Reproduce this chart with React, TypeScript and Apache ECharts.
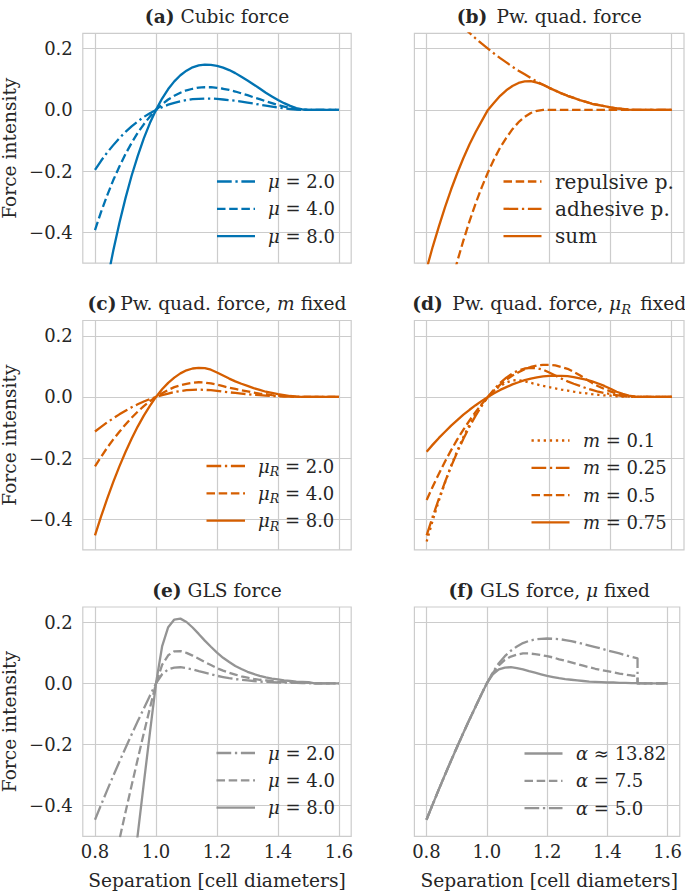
import React, { useEffect, useRef } from 'react';
import * as echarts from 'echarts';

// ---------------- data ----------------
const sep = [
  0.80, 0.82, 0.84, 0.86, 0.88, 0.90, 0.92, 0.94, 0.96, 0.98,
  1.00,
  1.02, 1.04, 1.06, 1.08, 1.10, 1.12, 1.14, 1.16, 1.18,
  1.20, 1.22, 1.24, 1.26, 1.28, 1.30, 1.32, 1.34, 1.36, 1.38,
  1.40, 1.42, 1.44, 1.46, 1.48, 1.50,
  1.52, 1.54, 1.56, 1.58, 1.60,
];
// same separations, with the cut-off point 1.50 listed twice (vertical drop)
const sepCut = [
  0.80, 0.82, 0.84, 0.86, 0.88, 0.90, 0.92, 0.94, 0.96, 0.98,
  1.00,
  1.02, 1.04, 1.06, 1.08, 1.10, 1.12, 1.14, 1.16, 1.18,
  1.20, 1.22, 1.24, 1.26, 1.28, 1.30, 1.32, 1.34, 1.36, 1.38,
  1.40, 1.42, 1.44, 1.46, 1.48, 1.50,
  1.50,
  1.52, 1.54, 1.56, 1.58, 1.60,
];

const xTickValues = [0.8, 1.0, 1.2, 1.4, 1.6];
const yTickValues = [-0.4, -0.2, 0.0, 0.2];

// (a) cubic force
const cubicMu2 = [-0.196, -0.166, -0.139, -0.115, -0.092, -0.072, -0.054, -0.038, -0.023, -0.011, 0.0, 0.009, 0.017, 0.023, 0.028, 0.032, 0.035, 0.036, 0.037, 0.037, 0.036, 0.034, 0.032, 0.030, 0.027, 0.024, 0.021, 0.017, 0.014, 0.011, 0.008, 0.005, 0.003, 0.001, 0.000, 0.0, 0, 0, 0, 0, 0];
const cubicMu4 = [-0.392, -0.333, -0.279, -0.229, -0.185, -0.144, -0.108, -0.075, -0.047, -0.022, 0.0, 0.018, 0.034, 0.046, 0.056, 0.064, 0.069, 0.073, 0.074, 0.074, 0.072, 0.069, 0.065, 0.060, 0.054, 0.048, 0.041, 0.035, 0.028, 0.022, 0.016, 0.011, 0.006, 0.003, 0.001, 0.0, 0, 0, 0, 0, 0];
const cubicMu8 = [-0.784, -0.666, -0.558, -0.459, -0.369, -0.288, -0.215, -0.151, -0.093, -0.043, 0.0, 0.037, 0.068, 0.093, 0.113, 0.128, 0.139, 0.145, 0.148, 0.147, 0.144, 0.138, 0.130, 0.120, 0.108, 0.096, 0.083, 0.070, 0.056, 0.044, 0.032, 0.022, 0.013, 0.006, 0.002, 0.0, 0, 0, 0, 0, 0];

// (b) piecewise quadratic force, parts
const pwqRepulsive = [-0.910, -0.816, -0.728, -0.645, -0.567, -0.494, -0.426, -0.363, -0.305, -0.252, -0.204, -0.161, -0.123, -0.091, -0.063, -0.040, -0.023, -0.010, -0.003, 0.0, 0, 0, 0, 0, 0, 0, 0, 0, 0, 0, 0, 0, 0, 0, 0, 0, 0, 0, 0, 0, 0];
const pwqAdhesive = [0.392, 0.370, 0.348, 0.328, 0.308, 0.288, 0.269, 0.251, 0.233, 0.216, 0.200, 0.184, 0.169, 0.155, 0.141, 0.128, 0.116, 0.104, 0.092, 0.082, 0.072, 0.063, 0.054, 0.046, 0.039, 0.032, 0.026, 0.020, 0.016, 0.012, 0.008, 0.005, 0.003, 0.001, 0.000, 0.0, 0, 0, 0, 0, 0];
const pwqSum = [-0.518, -0.446, -0.380, -0.317, -0.259, -0.206, -0.157, -0.112, -0.072, -0.036, 0.0, 0.023, 0.046, 0.064, 0.078, 0.088, 0.093, 0.094, 0.089, 0.082, 0.072, 0.063, 0.054, 0.046, 0.039, 0.032, 0.026, 0.020, 0.016, 0.012, 0.008, 0.005, 0.003, 0.001, 0.000, 0.0, 0, 0, 0, 0, 0];

// (c) piecewise quadratic, m fixed
const pwqMuR2 = [-0.113, -0.098, -0.083, -0.070, -0.057, -0.045, -0.034, -0.024, -0.015, -0.007, 0.0, 0.006, 0.011, 0.016, 0.019, 0.022, 0.023, 0.024, 0.023, 0.022, 0.020, 0.017, 0.015, 0.013, 0.011, 0.009, 0.007, 0.006, 0.004, 0.003, 0.002, 0.001, 0.001, 0.000, 0.000, 0.0, 0, 0, 0, 0, 0];
const pwqMuR4 = [-0.227, -0.196, -0.166, -0.139, -0.114, -0.090, -0.068, -0.048, -0.030, -0.014, 0.0, 0.012, 0.023, 0.032, 0.038, 0.043, 0.046, 0.048, 0.047, 0.044, 0.040, 0.035, 0.030, 0.026, 0.022, 0.018, 0.014, 0.011, 0.009, 0.006, 0.004, 0.003, 0.002, 0.001, 0.000, 0.0, 0, 0, 0, 0, 0];
const pwqMuR8 = [-0.453, -0.391, -0.333, -0.278, -0.227, -0.180, -0.137, -0.097, -0.061, -0.029, 0.0, 0.025, 0.046, 0.063, 0.077, 0.087, 0.093, 0.095, 0.094, 0.089, 0.080, 0.070, 0.060, 0.051, 0.043, 0.036, 0.029, 0.023, 0.017, 0.013, 0.009, 0.006, 0.003, 0.001, 0.000, 0.0, 0, 0, 0, 0, 0];

// (d) piecewise quadratic, mu_R fixed
const pwqM01 = [-0.473, -0.403, -0.339, -0.280, -0.225, -0.176, -0.131, -0.091, -0.056, -0.025, 0.0, 0.021, 0.036, 0.047, 0.054, 0.055, 0.051, 0.046, 0.041, 0.036, 0.032, 0.028, 0.024, 0.021, 0.017, 0.014, 0.012, 0.009, 0.007, 0.005, 0.004, 0.002, 0.001, 0.001, 0.000, 0.0, 0, 0, 0, 0, 0];
const pwqM025 = [-0.453, -0.391, -0.333, -0.278, -0.227, -0.180, -0.137, -0.097, -0.061, -0.029, 0.0, 0.025, 0.046, 0.063, 0.077, 0.087, 0.093, 0.095, 0.094, 0.089, 0.080, 0.070, 0.060, 0.051, 0.043, 0.036, 0.029, 0.023, 0.017, 0.013, 0.009, 0.006, 0.003, 0.001, 0.000, 0.0, 0, 0, 0, 0, 0];
const pwqM05 = [-0.337, -0.293, -0.251, -0.211, -0.174, -0.139, -0.107, -0.077, -0.049, -0.023, 0.0, 0.021, 0.040, 0.056, 0.070, 0.081, 0.091, 0.098, 0.103, 0.105, 0.105, 0.103, 0.098, 0.092, 0.082, 0.071, 0.058, 0.046, 0.035, 0.026, 0.018, 0.011, 0.006, 0.003, 0.001, 0.0, 0, 0, 0, 0, 0];
const pwqM075 = [-0.179, -0.156, -0.134, -0.114, -0.094, -0.076, -0.058, -0.042, -0.027, -0.013, 0.0, 0.012, 0.023, 0.032, 0.041, 0.048, 0.055, 0.060, 0.064, 0.067, 0.069, 0.069, 0.069, 0.068, 0.065, 0.061, 0.057, 0.051, 0.044, 0.036, 0.027, 0.017, 0.010, 0.004, 0.001, 0.0, 0, 0, 0, 0, 0];

// (e) GLS force
const glsMu2 = [-0.446, -0.397, -0.349, -0.302, -0.256, -0.211, -0.167, -0.124, -0.082, -0.040, 0.0, 0.030, 0.046, 0.052, 0.053, 0.050, 0.046, 0.040, 0.035, 0.030, 0.025, 0.021, 0.017, 0.014, 0.012, 0.010, 0.008, 0.006, 0.005, 0.004, 0.003, 0.003, 0.002, 0.002, 0.001, 0.001, 0, 0, 0, 0, 0];
const glsMu4 = [-0.893, -0.794, -0.697, -0.603, -0.511, -0.421, -0.334, -0.248, -0.163, -0.081, 0.0, 0.061, 0.092, 0.105, 0.106, 0.100, 0.091, 0.081, 0.070, 0.060, 0.050, 0.042, 0.035, 0.029, 0.023, 0.019, 0.015, 0.012, 0.010, 0.008, 0.006, 0.005, 0.004, 0.003, 0.003, 0.002, 0, 0, 0, 0, 0];
const glsMu8 = [-1.785, -1.588, -1.395, -1.207, -1.023, -0.843, -0.667, -0.495, -0.327, -0.162, 0.0, 0.121, 0.184, 0.209, 0.212, 0.201, 0.183, 0.162, 0.140, 0.120, 0.101, 0.084, 0.070, 0.057, 0.047, 0.038, 0.031, 0.025, 0.020, 0.016, 0.013, 0.010, 0.008, 0.006, 0.005, 0.004, 0, 0, 0, 0, 0];

// (f) GLS force, mu fixed (values on sepCut)
const glsA1382 = [-0.446, -0.397, -0.349, -0.302, -0.256, -0.211, -0.167, -0.124, -0.082, -0.040, 0.0, 0.030, 0.046, 0.052, 0.053, 0.050, 0.046, 0.040, 0.035, 0.030, 0.025, 0.021, 0.017, 0.014, 0.012, 0.010, 0.008, 0.006, 0.005, 0.004, 0.003, 0.003, 0.002, 0.002, 0.001, 0.001, 0.0, 0, 0, 0, 0, 0];
const glsA75 = [-0.446, -0.397, -0.349, -0.302, -0.256, -0.211, -0.167, -0.124, -0.082, -0.040, 0.0, 0.034, 0.059, 0.077, 0.088, 0.094, 0.098, 0.098, 0.096, 0.093, 0.089, 0.085, 0.079, 0.074, 0.069, 0.063, 0.058, 0.053, 0.048, 0.044, 0.040, 0.036, 0.032, 0.029, 0.026, 0.024, 0.0, 0, 0, 0, 0, 0];
const glsA5 = [-0.446, -0.397, -0.349, -0.302, -0.256, -0.211, -0.167, -0.124, -0.082, -0.040, 0.0, 0.036, 0.066, 0.089, 0.107, 0.121, 0.132, 0.139, 0.144, 0.146, 0.147, 0.146, 0.145, 0.142, 0.138, 0.134, 0.129, 0.124, 0.119, 0.114, 0.108, 0.103, 0.098, 0.092, 0.087, 0.082, 0.0, 0, 0, 0, 0, 0];

// ---------------- style ----------------
const FONT = 'DejaVu Serif';
const FS = 18.6;        // titles, axis names
const FS_LEG = 18;      // legend (math labels)
const FS_LEG_TXT = 20;  // legend (plain-word labels)
const FS_TICK = 18;     // tick labels
const TEXT = '#262626';
const GRIDC = '#cccccc';
const BLUE = '#0173b2';
const VERM = '#d55e00';
const GRAY = '#949494';
const LW = 2.3;
const SOLID: any = 'solid';
const DASHED = [3.7 * LW, 1.6 * LW];
const DASHDOT = [6.4 * LW, 1.6 * LW, 1.0 * LW, 1.6 * LW];
const DOTTED = [1.0 * LW, 1.65 * LW];

const COLS = [
  { left: 82.8, width: 268.4 },
  { left: 414.4, width: 269.6 },
];
const ROWS = [
  { top: 33.3, height: 229.8 },
  { top: 320.5, height: 229.3 },
  { top: 607.0, height: 229.3 },
];

const fontStr = (size: number, pre = '') => `${pre}${size}px "${FONT}"`;
const makeRich = (size: number): any => ({
  b: { font: fontStr(size, 'bold '), fontWeight: 'bold', fontSize: size, fontFamily: FONT },
  i: { font: fontStr(size, 'italic '), fontStyle: 'italic', fontSize: size, fontFamily: FONT },
  s: {
    font: fontStr(size * 0.7, 'italic '), fontStyle: 'italic', fontSize: size * 0.7, fontFamily: FONT,
    lineHeight: 15, padding: [11, 0, 0, 0],
  },
});

type LineDef = { label: string; x: number[]; y: number[]; color: string; dash: any };
type Panel = {
  row: number; col: number; title: string;
  legend: { x0: number; x1: number; tx: number; y0: number; size: number };
  lines: LineDef[];
};

const panels: Panel[] = [
  {
    row: 0, col: 0, title: '{b|(a)} Cubic force',
    legend: { x0: 217, x1: 255, tx: 268, y0: 181.5, size: FS_LEG },
    lines: [
      { label: '{i|μ} = 2.0', x: sep, y: cubicMu2, color: BLUE, dash: DASHDOT },
      { label: '{i|μ} = 4.0', x: sep, y: cubicMu4, color: BLUE, dash: DASHED },
      { label: '{i|μ} = 8.0', x: sep, y: cubicMu8, color: BLUE, dash: SOLID },
    ],
  },
  {
    row: 0, col: 1, title: '{b|(b)}\u2002Pw. quad. force',
    legend: { x0: 503.5, x1: 541.5, tx: 555, y0: 181.5, size: FS_LEG_TXT },
    lines: [
      { label: 'repulsive p.', x: sep, y: pwqRepulsive, color: VERM, dash: DASHED },
      { label: 'adhesive p.', x: sep, y: pwqAdhesive, color: VERM, dash: DASHDOT },
      { label: 'sum', x: sep, y: pwqSum, color: VERM, dash: SOLID },
    ],
  },
  {
    row: 1, col: 0, title: '{b|(c)}\u2009Pw. quad. force, {i|m} fixed',
    legend: { x0: 206.5, x1: 245, tx: 258, y0: 466, size: FS_LEG },
    lines: [
      { label: '{i|μ}{s|R} = 2.0', x: sep, y: pwqMuR2, color: VERM, dash: DASHDOT },
      { label: '{i|μ}{s|R} = 4.0', x: sep, y: pwqMuR4, color: VERM, dash: DASHED },
      { label: '{i|μ}{s|R} = 8.0', x: sep, y: pwqMuR8, color: VERM, dash: SOLID },
    ],
  },
  {
    row: 1, col: 1, title: '{b|(d)}\u2002Pw. quad. force, {i|μ}{s|R}\u2002fixed',
    legend: { x0: 531.5, x1: 569.5, tx: 583, y0: 440.5, size: FS_LEG },
    lines: [
      { label: '{i|m} = 0.1', x: sep, y: pwqM01, color: VERM, dash: DOTTED },
      { label: '{i|m} = 0.25', x: sep, y: pwqM025, color: VERM, dash: DASHDOT },
      { label: '{i|m} = 0.5', x: sep, y: pwqM05, color: VERM, dash: DASHED },
      { label: '{i|m} = 0.75', x: sep, y: pwqM075, color: VERM, dash: SOLID },
    ],
  },
  {
    row: 2, col: 0, title: '{b|(e)} GLS force',
    legend: { x0: 216.5, x1: 255, tx: 268, y0: 753, size: FS_LEG },
    lines: [
      { label: '{i|μ} = 2.0', x: sep, y: glsMu2, color: GRAY, dash: DASHDOT },
      { label: '{i|μ} = 4.0', x: sep, y: glsMu4, color: GRAY, dash: DASHED },
      { label: '{i|μ} = 8.0', x: sep, y: glsMu8, color: GRAY, dash: SOLID },
    ],
  },
  {
    row: 2, col: 1, title: '{b|(f)} GLS force, {i|μ} fixed',
    legend: { x0: 524.5, x1: 562.5, tx: 576, y0: 753.5, size: FS_LEG },
    lines: [
      { label: '{i|α} ≈ 13.82', x: sepCut, y: glsA1382, color: GRAY, dash: SOLID },
      { label: '{i|α} = 7.5', x: sepCut, y: glsA75, color: GRAY, dash: DASHED },
      { label: '{i|α} = 5.0', x: sepCut, y: glsA5, color: GRAY, dash: DASHDOT },
    ],
  },
];

const LEGEND_STEP = 27.3;
const TRANSPARENT = 'rgba(0,0,0,0)';
// ticks every 0.04 from 0.76: every 5th (0.80, 1.00, ...) gets a grid line
const X_SPLIT_COLORS = [TRANSPARENT, GRIDC, TRANSPARENT, TRANSPARENT, TRANSPARENT];
// ticks every 0.05 from -0.5: -0.4, -0.2, 0.0, 0.2 get grid lines
const Y_SPLIT_COLORS = [TRANSPARENT, TRANSPARENT, GRIDC, TRANSPARENT];

const tickFormatter = (ticks: number[]) => (v: number) => {
  const t = ticks.find((tv) => Math.abs(tv - v) < 1e-6);
  return t === undefined ? '' : t.toFixed(1).replace('-', '\u2212');
};

const textEl = (x: number, y: number, text: string, extra: any = {}) => {
  const size = extra.size || FS;
  return {
    type: 'text',
    x,
    y,
    rotation: extra.rotation || 0,
    silent: true,
    z: 20,
    style: {
      text,
      fill: TEXT,
      font: fontStr(size),
      fontSize: size,
      fontFamily: FONT,
      align: extra.align || 'center',
      textAlign: extra.align || 'center',
      verticalAlign: 'middle',
      textVerticalAlign: 'middle',
      rich: makeRich(size),
    },
  };
};

export default function App() {
  const ref = useRef<HTMLDivElement>(null);

  useEffect(() => {
    const el = ref.current;
    if (!el) return;
    const chart = echarts.init(el, null, { renderer: 'svg' });

    const grids: any[] = [];
    const xAxes: any[] = [];
    const yAxes: any[] = [];
    const series: any[] = [];
    const graphics: any[] = [];

    panels.forEach((p, idx) => {
      const c = COLS[p.col];
      const r = ROWS[p.row];
      grids.push({
        left: c.left, top: r.top, width: c.width, height: r.height,
        show: true, borderColor: GRIDC, borderWidth: 1.2, backgroundColor: TRANSPARENT,
        containLabel: false,
      });
      xAxes.push({
        type: 'value', gridIndex: idx, min: 0.76, max: 1.64, interval: 0.04,
        axisLine: { show: false }, axisTick: { show: false },
        axisLabel: {
          show: p.row === 2, formatter: tickFormatter(xTickValues), margin: 6,
          color: TEXT, fontFamily: FONT, fontSize: FS_TICK,
        },
        splitLine: { show: true, lineStyle: { color: X_SPLIT_COLORS, width: 1.2 } },
      });
      yAxes.push({
        type: 'value', gridIndex: idx, min: -0.5, max: 0.25, interval: 0.05,
        axisLine: { show: false }, axisTick: { show: false },
        axisLabel: {
          show: p.col === 0, formatter: tickFormatter(yTickValues), margin: 10,
          color: TEXT, fontFamily: FONT, fontSize: FS_TICK,
        },
        splitLine: { show: true, lineStyle: { color: Y_SPLIT_COLORS, width: 1.2 } },
      });

      p.lines.forEach((l, li) => {
        series.push({
          type: 'line',
          name: `${idx}-${li}`,
          xAxisIndex: idx,
          yAxisIndex: idx,
          data: l.x.map((xv, i) => [xv, l.y[i]]),
          showSymbol: false,
          symbol: 'none',
          clip: true,
          silent: true,
          z: 3,
          lineStyle: { color: l.color, width: LW, type: l.dash, cap: 'butt', join: 'round' },
        });
        const ly = p.legend.y0 + li * LEGEND_STEP;
        graphics.push({
          type: 'line',
          silent: true,
          z: 20,
          shape: { x1: p.legend.x0, y1: ly, x2: p.legend.x1, y2: ly },
          style: {
            stroke: l.color, lineWidth: LW,
            lineDash: Array.isArray(l.dash) ? l.dash : null,
            lineCap: 'butt',
          },
        });
        graphics.push(textEl(p.legend.tx, ly, l.label, { align: 'left', size: p.legend.size }));
      });

      const cx = c.left + c.width / 2;
      graphics.push(textEl(cx, r.top - 17, p.title));
      if (p.col === 0) {
        graphics.push(textEl(9.5, r.top + r.height / 2, 'Force intensity', { rotation: Math.PI / 2 }));
      }
      if (p.row === 2) {
        graphics.push(textEl(cx, 880, 'Separation [cell diameters]'));
      }
    });

    chart.setOption({
      animation: false,
      backgroundColor: '#ffffff',
      textStyle: { fontFamily: FONT },
      grid: grids,
      xAxis: xAxes,
      yAxis: yAxes,
      series,
      graphic: { elements: graphics },
    });

    return () => {
      chart.dispose();
    };
  }, []);

  return (
    <div
      ref={ref}
      style={{ position: 'fixed', left: 0, top: 0, width: 685, height: 891, background: '#ffffff' }}
    />
  );
}
